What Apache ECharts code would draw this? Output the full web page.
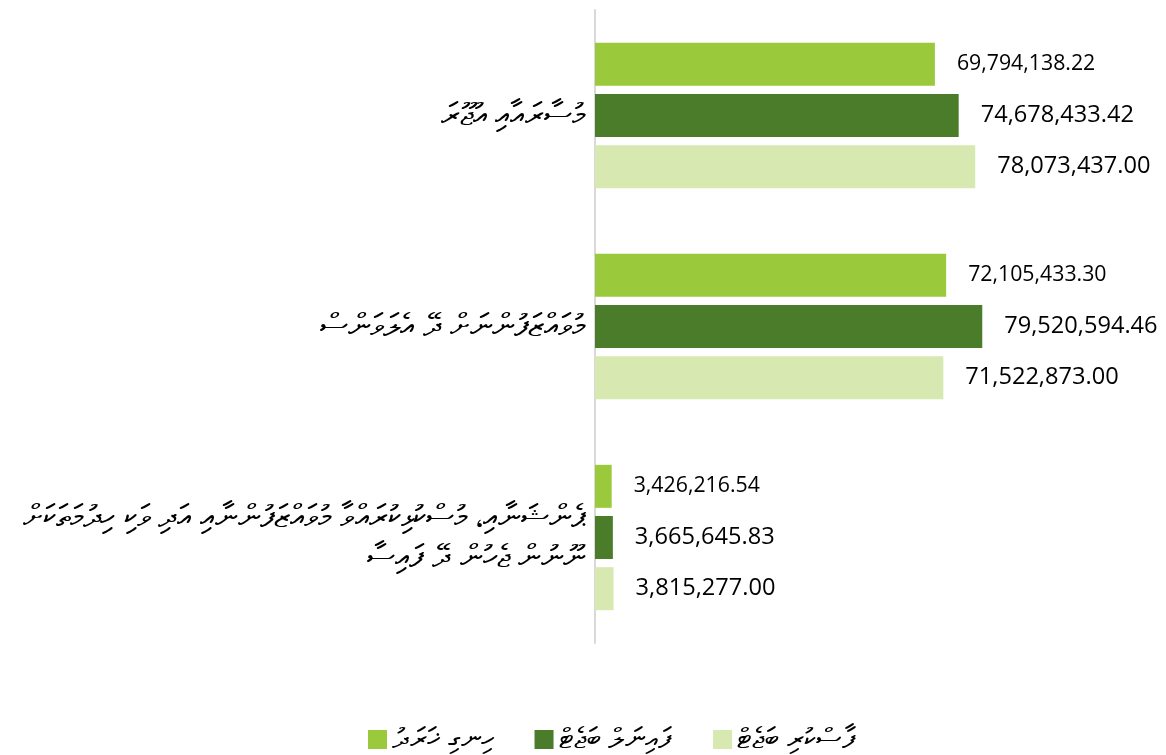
<!DOCTYPE html>
<html>
<head>
<meta charset="utf-8">
<script src="https://cdn.jsdelivr.net/npm/echarts@6/dist/echarts.min.js"></script>
<style>
  html, body { margin: 0; padding: 0; background: #ffffff; }
  #chart { width: 1166px; height: 755px; }
</style>
</head>
<body>
<div id="chart"></div>
<script>
// Budget categories (top to bottom)
const categories = [
  'މުސާރައާއި އުޖޫރަ',
  'މުވައްޒަފުންނަށް ދޭ އެލަވަންސް',
  'ޕެންޝަނާއި، މުސްކުޅިކުރައްވާ މުވައްޒަފުންނާއި އަދި ވަކި ހިދުމަތަކަށް\nނޫނުން ޖެހުން ދޭ ފައިސާ'
];

// Series names
const seriesNames = ['ހިނގި ޚަރަދު', 'ފައިނަލް ބަޖެޓް', 'ފާސްކުރި ބަޖެޓް'];

// Values per series, in category order
const actualSpend   = [69794138.22, 72105433.30, 3426216.54];
const finalBudget   = [74678433.42, 79520594.46, 3665645.83];
const passedBudget  = [78073437.00, 71522873.00, 3815277.00];

const colors = ['#9aca3c', '#4a7c2a', '#d7e8b1'];
const labelSizes = [21.3, 23.6, 23.6];

const fmt = v => v.toLocaleString('en-US', { minimumFractionDigits: 2, maximumFractionDigits: 2 });

const chart = echarts.init(document.getElementById('chart'), null, { renderer: 'canvas' });

const dataSets = [actualSpend, finalBudget, passedBudget];

chart.setOption({
  backgroundColor: '#ffffff',
  animation: false,
  textStyle: { fontFamily: '"Open Sans", "Noto Sans", sans-serif' },
  grid: { left: 595, top: 10, width: 487, height: 633, containLabel: false },
  legend: {
    left: 363,
    top: 720,
    itemWidth: 19,
    itemHeight: 19,
    itemGap: 41,
    icon: 'rect',
    textStyle: { fontSize: 29, color: '#000000' },
    data: seriesNames
  },
  xAxis: {
    type: 'value',
    min: 0,
    max: 100000000,
    show: false,
    splitLine: { show: false }
  },
  yAxis: {
    type: 'category',
    inverse: true,
    data: categories,
    axisLine: { show: true, lineStyle: { color: '#d9d9d9', width: 2 } },
    axisTick: { show: false },
    axisLabel: {
      margin: 10,
      fontSize: 32,
      color: '#000000',
      align: 'right',
      lineHeight: 40
    }
  },
  series: dataSets.map((d, i) => ({
    name: seriesNames[i],
    type: 'bar',
    data: d,
    barWidth: 43,
    barGap: '19%',
    itemStyle: { color: colors[i] },
    label: {
      show: true,
      position: 'right',
      distance: 22,
      color: '#000000',
      fontSize: labelSizes[i],
      fontFamily: '"Open Sans", sans-serif',
      formatter: p => fmt(p.value)
    }
  }))
});
</script>
</body>
</html>
